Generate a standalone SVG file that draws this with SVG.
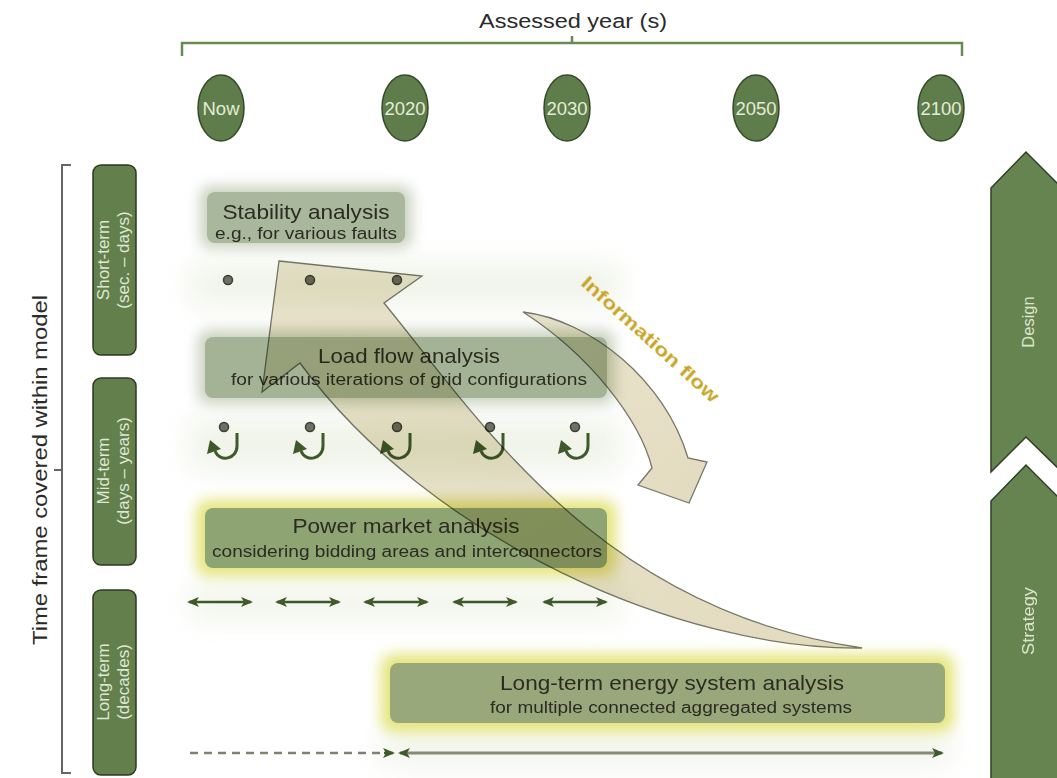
<svg xmlns="http://www.w3.org/2000/svg" width="1057" height="778" viewBox="0 0 1057 778">
<defs>
<style>
.t{font-family:"Liberation Sans",Arial,sans-serif}
.yr{font-size:18.5px;fill:#e4ecd8;text-anchor:middle}
.yc{fill:#5f7d4a;stroke:#354a2a;stroke-width:1.5}
.lb{fill:#627f4c;stroke:#2c3a22;stroke-width:1.5}
.lt{font-size:17px;fill:#dfe8d2;text-anchor:middle}
.h1{font-size:21px;fill:#2b2b22;text-anchor:middle}
.h2{font-size:16px;fill:#2b2b22;text-anchor:middle}
.dot{fill:#6d7064;stroke:#3b3f34;stroke-width:1.5}
.dbl{stroke:#3e5a2b;stroke-width:2.5;fill:none;marker-start:url(#ah);marker-end:url(#ah)}
.chev{fill:#66844f;stroke:#2f3f25;stroke-width:1.5}
.arr{fill:url(#ag);stroke:#77776a;stroke-width:1.3;mix-blend-mode:multiply}
</style>
<marker id="ah" viewBox="0 0 12 10" refX="10" refY="5" markerWidth="12" markerHeight="10" markerUnits="userSpaceOnUse" orient="auto-start-reverse">
<path d="M0,0 L12,5 L0,10 L3,5 Z" fill="#3e5a2b"/>
</marker>
<filter id="blur" x="-20%" y="-50%" width="140%" height="200%"><feGaussianBlur stdDeviation="7"/></filter>
<filter id="blur2" x="-30%" y="-80%" width="160%" height="260%"><feGaussianBlur stdDeviation="14"/></filter>
<linearGradient id="ag" x1="0" y1="0" x2="1" y2="1">
<stop offset="0" stop-color="#ebe5cf"/>
<stop offset="1" stop-color="#e2dbbf"/>
</linearGradient>
<g id="cyc">
<circle cx="0" cy="0" r="4.5" class="dot"/>
<path d="M13,6 V19 C13,32 -4,36 -9,24" fill="none" stroke="#3e5a2b" stroke-width="3"/>
<path d="M-14,13 L-17,27 L-3,22 Z" fill="#3e5a2b"/>
</g>
</defs>
<rect width="1057" height="778" fill="#ffffff"/>

<!-- soft background haze -->
<g id="haze" opacity="0.55">
<rect x="190" y="265" width="430" height="40" fill="#e3ead7" filter="url(#blur2)"/>
<rect x="190" y="420" width="430" height="50" fill="#e3ead7" filter="url(#blur2)"/>
<rect x="190" y="585" width="430" height="35" fill="#e6ecdb" filter="url(#blur2)"/>
<rect x="380" y="730" width="570" height="35" fill="#e6ecdb" filter="url(#blur2)"/>
</g>

<!-- top axis -->
<g id="top-axis">
<text class="t" x="573" y="28" font-size="20" fill="#2b2b2b" text-anchor="middle" textLength="188" lengthAdjust="spacingAndGlyphs">Assessed year (s)</text>
<path d="M182,56 V43 H962 V56 M572,43 V36" fill="none" stroke="#6a8a55" stroke-width="2.5"/>
</g>

<g id="year-now"><ellipse cx="221" cy="108" rx="23" ry="33" class="yc"/><text class="t yr" x="221" y="115">Now</text></g>
<g id="year-2020"><ellipse cx="405" cy="108" rx="23" ry="33" class="yc"/><text class="t yr" x="405" y="115">2020</text></g>
<g id="year-2030"><ellipse cx="567" cy="108" rx="23" ry="33" class="yc"/><text class="t yr" x="567" y="115">2030</text></g>
<g id="year-2050"><ellipse cx="756" cy="108" rx="23" ry="33" class="yc"/><text class="t yr" x="756" y="115">2050</text></g>
<g id="year-2100"><ellipse cx="941" cy="108" rx="23" ry="33" class="yc"/><text class="t yr" x="941" y="115">2100</text></g>

<!-- left axis -->
<g id="left-axis">
<text class="t" transform="translate(47,470) rotate(-90)" font-size="20" fill="#2b2b2b" text-anchor="middle" textLength="350" lengthAdjust="spacingAndGlyphs">Time frame covered within model</text>
<path d="M71,165 H62 V773 H71 M62,470 H54" fill="none" stroke="#666" stroke-width="2"/>
</g>

<g id="short-term"><rect x="93" y="165" width="43" height="190" rx="8" class="lb"/>
<text class="t lt" transform="translate(109,260) rotate(-90)">Short-term<tspan x="0" dy="20">(sec. – days)</tspan></text></g>
<g id="mid-term"><rect x="93" y="378" width="43" height="187" rx="8" class="lb"/>
<text class="t lt" transform="translate(109,471) rotate(-90)">Mid-term<tspan x="0" dy="20">(days – years)</tspan></text></g>
<g id="long-term"><rect x="93" y="590" width="43" height="185" rx="8" class="lb"/>
<text class="t lt" transform="translate(109,682) rotate(-90)">Long-term<tspan x="0" dy="20">(decades)</tspan></text></g>

<!-- right chevrons -->
<g id="design"><path d="M991,188 L1026,152 L1062,188 V472 L1026,437 L991,472 Z" class="chev"/>
<text class="t" transform="translate(1034,322) rotate(-90)" font-size="16.5" fill="#dde6cc" text-anchor="middle">Design</text></g>
<g id="strategy"><path d="M991,501 L1026,465 L1062,501 V780 H991 Z" class="chev"/>
<text class="t" transform="translate(1034,621) rotate(-90)" font-size="17" fill="#dde6cc" text-anchor="middle" textLength="68" lengthAdjust="spacingAndGlyphs">Strategy</text></g>

<!-- analysis boxes -->
<g id="stability">
<rect x="200" y="186" width="212" height="62" rx="10" fill="#c9d2bf" filter="url(#blur)"/>
<rect x="207" y="192" width="198" height="51" rx="8" fill="#a9b79d"/>
<text class="t h1" x="306" y="219" textLength="167" lengthAdjust="spacingAndGlyphs">Stability analysis</text>
<text class="t h2" x="306" y="239" font-size="15" textLength="182" lengthAdjust="spacingAndGlyphs">e.g., for various faults</text>
</g>
<g id="dots">
<circle cx="228" cy="280" r="4.5" class="dot"/>
<circle cx="310" cy="280" r="4.5" class="dot"/>
<circle cx="397" cy="280" r="4.5" class="dot"/>
</g>
<g id="load-flow">
<rect x="198" y="330" width="416" height="74" rx="10" fill="#c9d2bf" filter="url(#blur)"/>
<rect x="205" y="337" width="402" height="61" rx="8" fill="#a4b396"/>
<text class="t h1" x="409" y="363" textLength="182" lengthAdjust="spacingAndGlyphs">Load flow analysis</text>
<text class="t h2" x="409" y="385" textLength="356" lengthAdjust="spacingAndGlyphs">for various iterations of grid configurations</text>
</g>
<g id="cycles">
<use href="#cyc" x="224" y="427"/>
<use href="#cyc" x="310" y="427"/>
<use href="#cyc" x="397" y="427"/>
<use href="#cyc" x="490" y="427"/>
<use href="#cyc" x="575" y="427"/>
</g>
<g id="power-market">
<rect x="196" y="500" width="420" height="76" rx="12" fill="#e4e57c" filter="url(#blur)"/>
<rect x="205" y="508" width="402" height="60" rx="8" fill="#8fa473"/>
<text class="t h1" x="406" y="533" textLength="227" lengthAdjust="spacingAndGlyphs">Power market analysis</text>
<text class="t h2" x="407" y="557" textLength="390" lengthAdjust="spacingAndGlyphs">considering bidding areas and interconnectors</text>
</g>
<g id="long-term-analysis">
<rect x="381" y="654" width="573" height="78" rx="12" fill="#e4e57c" filter="url(#blur)"/>
<rect x="390" y="663" width="555" height="60" rx="8" fill="#98a87b"/>
<text class="t h1" x="672" y="690" textLength="344" lengthAdjust="spacingAndGlyphs">Long-term energy system analysis</text>
<text class="t h2" x="671" y="713" textLength="362" lengthAdjust="spacingAndGlyphs">for multiple connected aggregated systems</text>
</g>

<!-- connectors -->
<g id="connectors">
<path class="dbl" d="M189,602 H251"/>
<path class="dbl" d="M277,602 H339"/>
<path class="dbl" d="M365,602 H427"/>
<path class="dbl" d="M454,602 H516"/>
<path class="dbl" d="M544,602 H606"/>
<path d="M190,753 H384" fill="none" stroke="#7a8470" stroke-width="2.5" stroke-dasharray="8 6"/>
<path d="M384,753 H393" fill="none" stroke="#3e5a2b" stroke-width="2.5" marker-end="url(#ah)"/>
<path d="M400,753 H942" fill="none" stroke="#858b76" stroke-width="3" marker-start="url(#ah)" marker-end="url(#ah)"/>
</g>

<!-- big information arrows -->
<g id="flow-up">
<path class="arr" d="M279,261 L422,276 L384,303 C480,420 600,610 862,648 C680,650 430,540 300,363 L262,392 Z"/>
</g>
<g id="flow-down">
<path class="arr" d="M523,312 C590,320 665,380 688,458 L707,462 L689,503 L638,485 L652,468 C640,420 590,355 523,312 Z"/>
</g>
<g id="info-label">
<text class="t" transform="translate(646,344) rotate(42)" font-size="19" font-weight="bold" fill="#c8a428" text-anchor="middle" textLength="178" lengthAdjust="spacingAndGlyphs">Information flow</text>
</g>
</svg>
